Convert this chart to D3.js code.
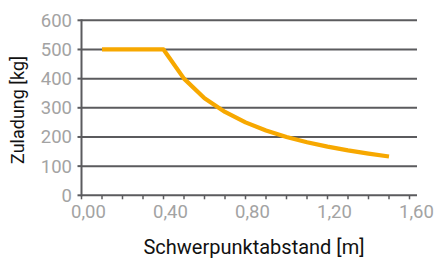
<!DOCTYPE html>
<html>
<head>
<meta charset="utf-8">
<script src="https://cdn.jsdelivr.net/npm/d3@7"></script>
<style>
  body { margin: 0; background: #fff; }
  svg { display: block; }
  .tick-label { font-family: Roboto, sans-serif; font-size: 18.5px; fill: #a3a3a3; }
  .title { font-family: Roboto, sans-serif; font-size: 20px; fill: #111; }
</style>
</head>
<body>
<script>
// load curve: distance of centre of gravity [m] vs. payload [kg]
const distM = [0.10, 0.40, 0.50, 0.60, 0.70, 0.80, 0.90, 1.00, 1.10, 1.20, 1.30, 1.40, 1.50];
const loadKg = [500, 500, 400, 333, 286, 250, 222, 200, 182, 167, 154, 143, 133];
const yTicks = [0, 100, 200, 300, 400, 500, 600];
const xMinorTicks = [0, 0.1, 0.2, 0.3, 0.4, 0.5, 0.6, 0.7, 0.8, 0.9, 1.0, 1.1, 1.2, 1.3, 1.4, 1.5, 1.6];
const xLabelTicks = [0, 0.4, 0.8, 1.2, 1.6];

const W = 434, H = 259;
const X0 = 81.5, X1 = 409.5, AXIS_END = 417;
const Y0 = 195.3, Y1 = 20.3;

const fmt = d => d3.format(".2f")(d).replace(".", ",");

const svg = d3.select("body").append("svg")
  .attr("width", W).attr("height", H);

const x = d3.scaleLinear().domain([0, 1.6]).range([X0, X1]);
const y = d3.scaleLinear().domain([0, 600]).range([Y0, Y1]);

// horizontal grid lines (incl. x axis)
svg.append("g").selectAll("line")
  .data(yTicks)
  .join("line")
  .attr("x1", X0).attr("x2", AXIS_END)
  .attr("y1", d => y(d)).attr("y2", d => y(d))
  .attr("stroke", "#5b5b5e")
  .attr("stroke-width", 2);

// y axis line + left ticks
svg.append("line")
  .attr("x1", X0).attr("x2", X0)
  .attr("y1", y(600) - 1).attr("y2", y(0) + 1)
  .attr("stroke", "#5b5b5e").attr("stroke-width", 2);

svg.append("g").selectAll("line")
  .data(yTicks)
  .join("line")
  .attr("x1", X0 - 4).attr("x2", X0)
  .attr("y1", d => y(d)).attr("y2", d => y(d))
  .attr("stroke", "#5b5b5e").attr("stroke-width", 2);

svg.append("g").selectAll("text")
  .data(yTicks)
  .join("text")
  .attr("class", "tick-label")
  .attr("x", 72)
  .attr("y", d => y(d) + 6.5)
  .attr("text-anchor", "end")
  .text(d => d);

// x minor ticks below axis
svg.append("g").selectAll("line")
  .data(xMinorTicks)
  .join("line")
  .attr("x1", d => x(d)).attr("x2", d => x(d))
  .attr("y1", Y0).attr("y2", Y0 + 4)
  .attr("stroke", "#5b5b5e").attr("stroke-width", 1.5);

svg.append("g").selectAll("text")
  .data(xLabelTicks)
  .join("text")
  .attr("class", "tick-label")
  .attr("x", d => x(d) + 7)
  .attr("y", 218)
  .attr("text-anchor", "middle")
  .text(fmt);

// load curve
const line = d3.line()
  .x((d, i) => x(distM[i]))
  .y(d => y(d));

svg.append("path")
  .datum(loadKg)
  .attr("d", line)
  .attr("fill", "none")
  .attr("stroke", "#f7a800")
  .attr("stroke-width", 4.2)
  .attr("stroke-linejoin", "round");

// axis titles
svg.append("text")
  .attr("class", "title")
  .attr("x", 254).attr("y", 254)
  .attr("text-anchor", "middle")
  .text("Schwerpunktabstand [m]");

svg.append("text")
  .attr("class", "title")
  .attr("transform", "translate(24,110) rotate(-90)")
  .attr("text-anchor", "middle")
  .style("font-size", "18px")
  .text("Zuladung [kg]");
</script>
</body>
</html>
